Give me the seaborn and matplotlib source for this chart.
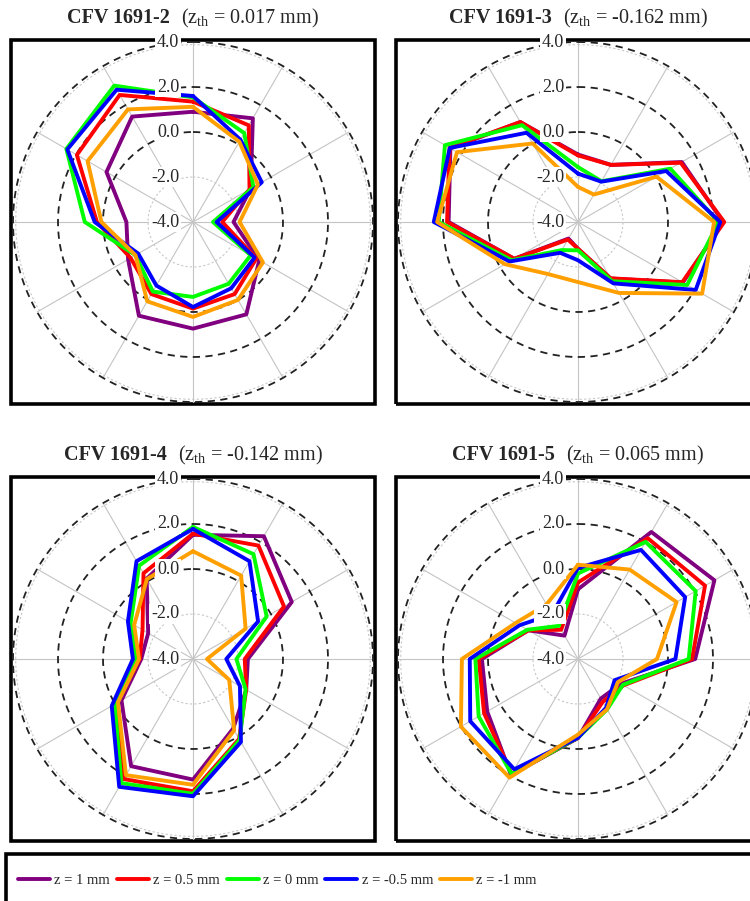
import numpy as np
import pandas as pd
import seaborn as sns
import matplotlib.pyplot as plt
from matplotlib.patches import Rectangle
from matplotlib.offsetbox import TextArea, HPacker, AnnotationBbox

# DATA (one row per z level, values at 0, 30, ..., 330 degrees, clockwise from top)
angles_deg = [0, 30, 60, 90, 120, 150, 180, 210, 240, 270, 300, 330]
z_levels = ['z = 1 mm', 'z = 0.5 mm', 'z = 0 mm', 'z = -0.5 mm', 'z = -1 mm']
z_colors = ['#800080', '#ff0000', '#00ff00', '#0000ff', '#ffa000']

panel_names = ['CFV 1691-2', 'CFV 1691-3', 'CFV 1691-4', 'CFV 1691-5']
z_th = ['0.017', '-0.162', '-0.142', '0.065']
r_ticks = [4.0, 2.0, 0.0, -2.0, -4.0]

cfv2 = [
    [0.90, 1.32, -1.04, -2.20, -0.60, 0.74, 0.74, 0.81, -0.67, -1.04, 0.44, 1.41],
    [1.35, 0.96, -1.10, -2.70, -0.75, -0.30, -0.15, -0.30, -0.80, 0.27, 1.96, 2.52],
    [1.54, 0.56, -0.90, -3.11, -1.04, -0.83, -0.67, -0.43, -1.05, 0.81, 2.50, 3.00],
    [1.60, 0.22, -0.47, -2.95, -0.84, -0.60, -0.22, -0.74, -1.19, 0.37, 2.45, 2.79],
    [1.12, 0.12, -0.67, -1.93, -0.41, 0.00, 0.22, 0.07, -1.05, 0.07, 1.41, 1.78],
]
cfv3 = [
    [-1.00, -1.07, 1.33, 2.45, 1.38, -1.10, -2.81, -3.15, -0.73, 1.75, 2.55, 1.13],
    [-1.04, -1.07, 1.27, 2.50, 1.35, -1.11, -2.81, -3.10, -0.73, 1.82, 2.59, 1.13],
    [-1.56, -1.91, 0.74, 2.24, 1.60, -0.96, -2.74, -2.56, -0.60, 2.19, 2.83, 0.97],
    [-1.85, -1.93, 0.53, 2.32, 2.04, -0.85, -2.30, -2.42, -0.49, 2.41, 2.58, 0.58],
    [-2.44, -2.59, 0.03, 2.05, 2.37, -0.36, -1.33, -1.33, -0.25, 2.26, 2.21, 0.03],
]
cfv4 = [
    [1.52, 2.30, 1.07, -1.56, -1.27, -0.43, 1.36, 1.50, -0.33, -1.70, -1.70, 0.12],
    [1.57, 1.82, 0.67, -1.70, -1.27, 0.10, 1.88, 2.16, -0.05, -1.63, -1.41, 0.40],
    [1.87, 1.38, -0.22, -2.07, -1.30, 0.15, 1.99, 2.37, 0.01, -1.48, -0.80, 0.79],
    [1.78, 1.02, -0.66, -2.52, -1.59, 0.26, 2.10, 2.56, 0.17, -1.33, -0.66, 1.02],
    [0.79, 0.28, -1.30, -3.38, -2.14, -0.34, 1.59, 1.96, -0.15, -1.60, -0.98, 0.10],
]
cfv5 = [
    [-0.90, 2.52, 3.00, 1.21, -1.80, -1.97, -0.49, 1.95, 0.66, 0.27, -1.45, -2.80],
    [-0.60, 2.20, 2.52, 1.07, -1.66, -1.80, -0.49, 1.90, 0.82, 0.41, -1.45, -2.50],
    [-0.20, 2.01, 2.04, 0.92, -1.70, -1.41, -0.50, 1.90, 1.10, 0.56, -1.40, -2.30],
    [0.05, 1.60, 1.50, 0.33, -2.12, -1.50, -0.50, 1.66, 1.53, 0.81, -1.00, -1.70],
    [0.19, 0.59, 1.06, -0.49, -1.95, -1.42, -0.64, 2.09, 2.01, 1.16, -0.80, -1.20],
]
panels = [cfv2, cfv3, cfv4, cfv5]

# LAYOUT (pixels from top-left of a 750x901 canvas)
W, H = 750, 901
centers = [(193, 222), (578, 222), (193, 659), (578, 659)]
R = 180
BOX = 364

sns.set_style("white")
plt.rcParams['font.family'] = ['Liberation Serif', 'DejaVu Serif']
plt.rcParams['mathtext.fontset'] = 'custom'
plt.rcParams['mathtext.rm'] = 'Liberation Serif'
plt.rcParams['mathtext.it'] = 'Liberation Serif:italic'
plt.rcParams['mathtext.bf'] = 'Liberation Serif:bold'

fig = plt.figure(figsize=(W / 100, H / 100), dpi=100)
full = np.linspace(0, 2 * np.pi, 361)

for i, (data, (cx, cy)) in enumerate(zip(panels, centers)):
    # frame around the panel
    fig.add_artist(Rectangle(((cx - BOX / 2) / W, 1 - (cy + BOX / 2) / H), BOX / W, BOX / H,
                             transform=fig.transFigure, fill=False, lw=2.6, ec='black', zorder=1))
    ax = fig.add_axes([(cx - R) / W, 1 - (cy + R) / H, 2 * R / W, 2 * R / H], projection='polar')
    ax.set_zorder(2)
    ax.patch.set_alpha(0)
    ax.set_theta_zero_location('N')
    ax.set_theta_direction(-1)

    # spokes and circles
    for a in angles_deg:
        ax.plot([np.deg2rad(a)] * 2, [-4, 4], color='#c4c4c4', lw=0.8, clip_on=False, zorder=1)
    for rr in [-2, 3.88]:
        ax.plot(full, np.full_like(full, rr), color='#c8c8c8', lw=0.8, ls=(0, (2, 2)), clip_on=False, zorder=1)
    for rr in [0, 2, 4]:
        ax.plot(full, np.full_like(full, rr), color='#222222', lw=1.3, ls=(0, (4, 3)), clip_on=False, zorder=1)

    # series
    rows = []
    for z, vals in zip(z_levels, data):
        for k, (a, v) in enumerate(zip(angles_deg + [360], vals + [vals[0]])):
            rows.append({'theta': np.deg2rad(a), 'value': v, 'z': z, 'k': k})
    df = pd.DataFrame(rows)
    sns.lineplot(data=df, x='theta', y='value', hue='z', hue_order=z_levels, palette=z_colors,
                 sort=False, estimator=None, units='z', lw=2.8, ax=ax, legend=(i == 0), zorder=3)
    if i == 0:
        handles, labels = ax.get_legend_handles_labels()
        ax.get_legend().remove()

    ax.set_ylim(-4, 4)
    ax.grid(False)
    ax.set_xticks([])
    ax.set_yticks([])
    ax.set_xlabel('')
    ax.set_ylabel('')
    ax.spines['polar'].set_visible(False)

    # radial labels with white background
    for t in r_ticks:
        ax.annotate(f'{t:.1f}', xy=(0, t), xytext=(-10, 0), textcoords='offset points',
                    ha='right', va='center', fontsize=13, zorder=5, annotation_clip=False,
                    bbox=dict(boxstyle='square,pad=0.1', fc='white', ec='none'))

    # title
    t1 = TextArea(panel_names[i], textprops=dict(fontsize=14.5, fontweight='bold'))
    t2 = TextArea(r'(z$_{\mathrm{th}}$ = ' + z_th[i] + ' mm)', textprops=dict(fontsize=14.5))
    pack = HPacker(children=[t1, t2], sep=8, align='baseline', pad=0)
    fig.add_artist(AnnotationBbox(pack, (cx / W, 1 - (cy - BOX / 2 - 22) / H), xycoords='figure fraction',
                                  frameon=False, box_alignment=(0.5, 0.5), pad=0))

# legend
fig.add_artist(Rectangle((6 / W, 1 - 960 / H), 800 / W, (960 - 854) / H,
                         transform=fig.transFigure, fill=False, lw=2.6, ec='black', zorder=1))
fig.legend(handles, labels, ncol=5, loc='center left', bbox_to_anchor=(18 / W, 1 - 880 / H),
           frameon=False, fontsize=10.5, handlelength=2.2, handletextpad=0.3, columnspacing=0.45,
           borderpad=0, borderaxespad=0)

fig.savefig('out.png', dpi=100)
